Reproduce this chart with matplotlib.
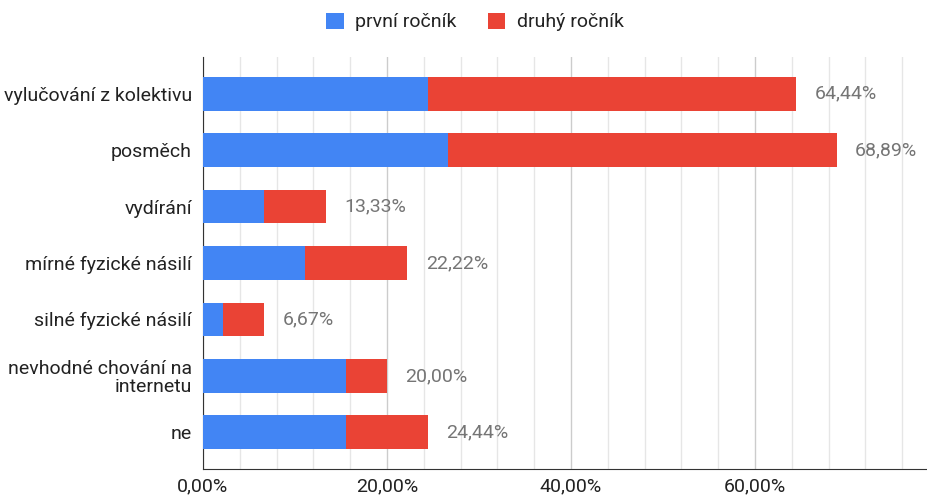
import matplotlib.pyplot as plt
from matplotlib.ticker import FixedLocator, FuncFormatter

categories = [
    "vylučování z kolektivu",
    "posměch",
    "vydírání",
    "mírné fyzické násilí",
    "silné fyzické násilí",
    "nevhodné chování na\ninternetu",
    "ne",
]
first_year = [24.44, 26.67, 6.67, 11.11, 2.22, 15.56, 15.56]
second_year = [40.00, 42.22, 6.67, 11.11, 4.44, 4.44, 8.89]
totals = [64.44, 68.89, 13.33, 22.22, 6.67, 20.00, 24.44]
series_names = ["první ročník", "druhý ročník"]

BLUE = "#4285F4"
RED = "#EA4335"

plt.rcParams["font.family"] = ["Roboto", "DejaVu Sans"]

fig = plt.figure(figsize=(9.28, 4.97), dpi=100)
ax = fig.add_axes([203 / 928, (497 - 469) / 497, (928 - 203) / 928, (469 - 57) / 497])

y = list(range(len(categories)))
ax.barh(y, first_year, height=0.6, color=BLUE, label=series_names[0], zorder=3)
ax.barh(y, second_year, left=first_year, height=0.6, color=RED, label=series_names[1], zorder=3)

for yi, tot in zip(y, totals):
    ax.text(tot + 2.0, yi, f"{tot:.2f}%".replace(".", ","), va="center", ha="left",
            fontsize=14, color="#757575")

ax.set_ylim(len(categories) - 0.35, -0.65)
ax.set_xlim(0, 78.8)
ax.set_yticks(y)
ax.set_yticklabels(categories, fontsize=14, color="#222222", linespacing=1.0)
ax.xaxis.set_major_locator(FixedLocator([0, 20, 40, 60]))
ax.xaxis.set_minor_locator(FixedLocator([v for v in range(0, 77, 4) if v % 20 != 0]))
ax.xaxis.set_major_formatter(FuncFormatter(lambda v, p: f"{v:.2f}%".replace(".", ",")))
ax.tick_params(axis="x", labelsize=14, labelcolor="#222222", length=0, which="both", pad=6)
ax.tick_params(axis="y", length=0, pad=8)
ax.grid(axis="x", which="major", color="#cccccc", linewidth=1, zorder=0)
ax.grid(axis="x", which="minor", color="#e6e6e6", linewidth=1, zorder=0)

for s in ["top", "right"]:
    ax.spines[s].set_visible(False)
ax.spines["left"].set_color("#333333")
ax.spines["bottom"].set_color("#333333")

fig.legend(loc="upper center", bbox_to_anchor=(0.512, 1.01), ncol=2, frameon=False,
           fontsize=14, handlelength=0.9, handleheight=0.9, columnspacing=1.6,
           handletextpad=0.6, labelcolor="#222222")

fig.savefig("out.png", dpi=100)
